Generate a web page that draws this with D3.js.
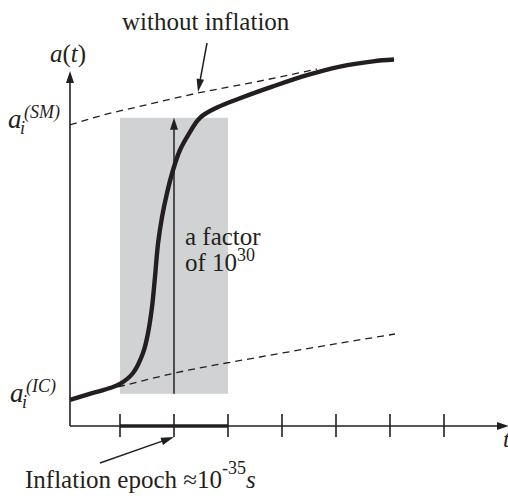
<!DOCTYPE html>
<html>
<head>
<meta charset="utf-8">
<script src="https://cdn.jsdelivr.net/npm/d3@7"></script>
</head>
<body style="margin:0">
<svg id="chart" width="508" height="500"></svg>
<script>
// Time axis ticks (arbitrary units) and the inflation window
const tickTimes = [1, 2, 3, 4, 5, 6, 7];
const epochStart = 1, epochEnd = 3, epochMid = 2;

// Expansion factor, as log10 a(t)
const growthFrom = 3.5;     // before inflation
const growthDecades = 30;   // "a factor of 10^30"

// Actual history of a(t): slow start, inflation, then standard evolution
const curveT = [0.074, 0.5, 0.815, 1.0, 1.241, 1.426, 1.519, 1.593, 1.648, 1.704, 1.778, 1.870,
                1.981, 2.111, 2.259, 2.481, 2.796, 3.222, 3.833, 4.463, 5.074, 5.685, 6.074];
const curveLogA = [2.83, 3.59, 4.13, 4.57, 5.76, 7.93, 10.11, 12.93, 16.2, 19.8, 22.7, 25.3,
                   27.8, 30.0, 31.6, 33.5, 34.62, 35.62, 36.91, 38.13, 39.07, 39.64, 39.83];

// Standard-model evolution without inflation (upper) and from the initial conditions (lower)
const smT = [0.074, 0.63, 1.556, 2.444, 3.407, 4.648];
const smLogA = [32.72, 33.70, 35.0, 36.2, 37.28, 38.8];
const icT = [0.963, 2.019, 3.593, 6.093];
const icLogA = [4.24, 5.76, 7.5, 10.0];

const svg = d3.select("#chart").style("font-family", '"Liberation Serif"');
const ink = "#231f20";

const x = d3.scaleLinear().domain([1, 7]).range([120, 444]);
const y = d3.scaleLinear().domain([0, 40]).range([426, 58]);

const originX = x(0.074), originY = y(0);

function arrowHead(x1, y1, x2, y2, len, half) {
  const a = Math.atan2(y2 - y1, x2 - x1);
  const bx = x2 - len * Math.cos(a), by = y2 - len * Math.sin(a);
  const px = -Math.sin(a) * half, py = Math.cos(a) * half;
  svg.append("path")
    .attr("d", `M${x2},${y2}L${bx + px},${by + py}L${bx - px},${by - py}Z`)
    .attr("fill", ink);
}
function arrow(x1, y1, x2, y2, w, len, half) {
  const a = Math.atan2(y2 - y1, x2 - x1);
  svg.append("line")
    .attr("x1", x1).attr("y1", y1)
    .attr("x2", x2 - (len - 2) * Math.cos(a)).attr("y2", y2 - (len - 2) * Math.sin(a))
    .attr("stroke", ink).attr("stroke-width", w);
  arrowHead(x1, y1, x2, y2, len, half);
}
function label(xp, yp, size) {
  return svg.append("text").attr("x", xp).attr("y", yp)
    .style("font-family", '"Liberation Serif"').attr("font-size", size).attr("fill", ink);
}

// Shaded inflation window
svg.append("rect")
  .attr("x", x(epochStart)).attr("y", y(growthFrom + growthDecades))
  .attr("width", x(epochEnd) - x(epochStart))
  .attr("height", y(growthFrom) - y(growthFrom + growthDecades))
  .attr("fill", "#d1d2d4");

// Axes
arrow(originX, originY, originX, 71, 1.6, 12, 4);
arrow(originX, originY, 509, originY, 1.6, 12, 4);

svg.append("g").selectAll("line").data(tickTimes).join("line")
  .attr("x1", d => x(d)).attr("x2", d => x(d))
  .attr("y1", originY - 12).attr("y2", originY + 11)
  .attr("stroke", ink).attr("stroke-width", 1.6);

// Duration of the inflation epoch on the time axis
svg.append("line")
  .attr("x1", x(epochStart)).attr("x2", x(epochEnd))
  .attr("y1", originY).attr("y2", originY)
  .attr("stroke", ink).attr("stroke-width", 3.6);

// Dashed no-inflation trajectories
const dashed = d3.line().x(d => x(d[0])).y(d => y(d[1])).curve(d3.curveMonotoneX);
svg.append("path")
  .attr("d", dashed(d3.zip(smT, smLogA)))
  .attr("fill", "none").attr("stroke", ink).attr("stroke-width", 1.3)
  .attr("stroke-dasharray", "7,5");
svg.append("path")
  .attr("d", dashed(d3.zip(icT, icLogA)))
  .attr("fill", "none").attr("stroke", ink).attr("stroke-width", 1.3)
  .attr("stroke-dasharray", "7,5");

// Growth arrow: a factor of 10^30
arrow(x(epochMid), y(growthFrom), x(epochMid), y(growthFrom + growthDecades), 1.5, 12, 4);

// Scale factor with inflation
const smooth = d3.line().x(d => x(d[0])).y(d => y(d[1])).curve(d3.curveCatmullRom.alpha(0.5));
svg.append("path")
  .attr("d", smooth(d3.zip(curveT, curveLogA)))
  .attr("fill", "none").attr("stroke", ink).attr("stroke-width", 4.4);

// Labels
label(122, 30, 25).text("without inflation");
arrow(207, 43, x(2.444), y(36.2) - 1, 1.5, 13, 3.8);

const at = label(50, 62, 25);
at.append("tspan").attr("font-style", "italic").text("a");
at.append("tspan").text("(");
at.append("tspan").attr("font-style", "italic").text("t");
at.append("tspan").text(")");

function aiLabel(xa, ya, sup) {
  label(xa, ya, 27).attr("font-style", "italic").text("a");
  label(xa + 12, ya + 6, 18).attr("font-style", "italic").text("i");
  label(xa + 16, ya - 10, 18).attr("font-style", "italic").text(sup);
}
aiLabel(8, 128, "(SM)");
aiLabel(10, 402, "(IC)");

label(185, 245, 25).text("a factor");
const ofLine = label(185, 271, 25);
ofLine.append("tspan").text("of 10");
ofLine.append("tspan").attr("dy", -10).attr("font-size", 18).text(growthDecades);

const ep = label(25, 488, 25);
ep.append("tspan").text("Inflation epoch \u224810");
ep.append("tspan").attr("dy", -14).attr("font-size", 18).text("-35");
ep.append("tspan").attr("dy", 14).attr("font-style", "italic").text("s");
arrow(100, 463, x(epochMid), originY + 11, 1.5, 13, 3.8);

label(503, 447, 24).attr("font-style", "italic").text("t");
</script>
</body>
</html>
